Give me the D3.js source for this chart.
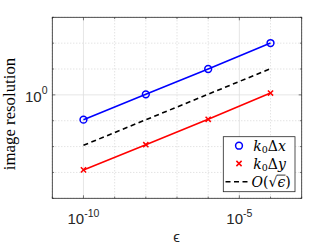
<!DOCTYPE html>
<html>
<head>
<meta charset="utf-8">
<script src="https://cdn.jsdelivr.net/npm/d3@7"></script>
<style>
	body { margin:0; background:#fff; }
	svg { display:block; }
	.tick-lbl { font-family:"Liberation Sans", Arial, sans-serif; font-size:15px; fill:#262626; }
	.serif { font-family:"Liberation Serif", "DejaVu Serif", serif; fill:#000; }
	.math { font-family:"DejaVu Serif", serif; fill:#000; }
</style>
</head>
<body>
<svg id="chart" width="332" height="249"></svg>
<script>
// values
var eps = [1e-10, 1e-8, 1e-6, 1e-4];
var kdx = [0.11, 1.05, 10.0, 101];
var kdy = [0.00125, 0.0118, 0.114, 1.18];
var refEps = [1e-10, 1e-4];
var refVal = [0.0112, 10.3];
var xMajor = [1e-10, 1e-5], xMajorExp = ['-10', '-5'];
var xMinor = [1e-11, 1e-9, 1e-8, 1e-7, 1e-6, 1e-4, 1e-3];
var yMajor = [1], yMajorExp = ['0'];
var yMinor = [1e-4, 1e-3, 1e-2, 1e-1, 1e1, 1e2, 1e3];

var svg = d3.select('#chart');
var box = { l:52.3, r:301.7, t:17.3, b:198.3 };
var x = d3.scaleLog().domain([1e-11, 1e-3]).range([box.l, box.r]);
var y = d3.scaleLog().domain([1e-4, 1e3]).range([box.b, box.t]);
var axisCol = '#262626';

// grid
var grid = svg.append('g');
grid.selectAll('.gx').data(xMinor).enter().append('line')
	.attr('x1', function(d) { return x(d); }).attr('x2', function(d) { return x(d); })
	.attr('y1', box.t).attr('y2', box.b)
	.attr('stroke', '#bdbdbd').attr('stroke-width', 0.6).attr('stroke-dasharray', '1,2');
grid.selectAll('.gy').data(yMinor).enter().append('line')
	.attr('y1', function(d) { return y(d); }).attr('y2', function(d) { return y(d); })
	.attr('x1', box.l).attr('x2', box.r)
	.attr('stroke', '#bdbdbd').attr('stroke-width', 0.6).attr('stroke-dasharray', '1,2');
grid.selectAll('.Gx').data(xMajor).enter().append('line')
	.attr('x1', function(d) { return x(d); }).attr('x2', function(d) { return x(d); })
	.attr('y1', box.t).attr('y2', box.b)
	.attr('stroke', '#e0e0e0').attr('stroke-width', 0.8);
grid.selectAll('.Gy').data(yMajor).enter().append('line')
	.attr('y1', function(d) { return y(d); }).attr('y2', function(d) { return y(d); })
	.attr('x1', box.l).attr('x2', box.r)
	.attr('stroke', '#e0e0e0').attr('stroke-width', 0.8);

// ticks on all four sides, pointing inward
var ticks = svg.append('g').attr('stroke', axisCol).attr('stroke-width', 0.6);
function xt(list, len) {
	list.forEach(function(d) {
		ticks.append('line').attr('x1', x(d)).attr('x2', x(d)).attr('y1', box.b).attr('y2', box.b - len);
		ticks.append('line').attr('x1', x(d)).attr('x2', x(d)).attr('y1', box.t).attr('y2', box.t + len);
	});
}
function yt(list, len) {
	list.forEach(function(d) {
		ticks.append('line').attr('y1', y(d)).attr('y2', y(d)).attr('x1', box.l).attr('x2', box.l + len);
		ticks.append('line').attr('y1', y(d)).attr('y2', y(d)).attr('x1', box.r).attr('x2', box.r - len);
	});
}
xt(xMajor, 3); xt(xMinor, 1.8); yt(yMajor, 3); yt(yMinor, 1.8);

svg.append('rect').attr('x', box.l).attr('y', box.t)
	.attr('width', box.r - box.l).attr('height', box.b - box.t)
	.attr('fill', 'none').attr('stroke', axisCol).attr('stroke-width', 0.8);

// tick labels
svg.selectAll('.xl').data(xMajor).enter().append('text')
	.attr('class', 'tick-lbl').attr('x', function(d) { return x(d); }).attr('y', 224)
	.attr('text-anchor', 'middle')
	.each(function(d, i) {
		var t = d3.select(this);
		t.append('tspan').text('10');
		t.append('tspan').attr('dy', -7.3).attr('font-size', 10.5).text(xMajorExp[i]);
	});
svg.selectAll('.yl').data(yMajor).enter().append('text')
	.attr('class', 'tick-lbl').attr('x', 47.5).attr('y', function(d) { return y(d) + 6.8; })
	.attr('text-anchor', 'end')
	.each(function(d, i) {
		var t = d3.select(this);
		t.append('tspan').text('10');
		t.append('tspan').attr('dy', -7.3).attr('font-size', 10.5).text(yMajorExp[i]);
	});

// axis titles
svg.append('text').attr('class', 'tick-lbl').attr('x', 176.5).attr('y', 241.5)
	.attr('text-anchor', 'middle').attr('font-size', 13).text('\u03f5');
svg.append('text').attr('class', 'serif').attr('font-size', 16.8)
	.attr('transform', 'translate(14.5,114) rotate(-90)').attr('text-anchor', 'middle')
	.text('image resolution');

// series
var line = d3.line().x(function(d) { return x(d[0]); }).y(function(d) { return y(d[1]); });
svg.append('path').datum(d3.zip(eps, kdx)).attr('d', line)
	.attr('fill', 'none').attr('stroke', '#0000ff').attr('stroke-width', 1.6);
svg.append('path').datum(d3.zip(eps, kdy)).attr('d', line)
	.attr('fill', 'none').attr('stroke', '#ff0000').attr('stroke-width', 1.6);
svg.append('path').datum(d3.zip(refEps, refVal)).attr('d', line)
	.attr('fill', 'none').attr('stroke', '#000').attr('stroke-width', 1.6).attr('stroke-dasharray', '5,3.5');

function circ(g, cx, cy) {
	g.append('circle').attr('cx', cx).attr('cy', cy).attr('r', 3.4)
		.attr('fill', 'none').attr('stroke', '#0000ff').attr('stroke-width', 1.5);
}
function cross(g, cx, cy) {
	var s = 2.6;
	g.append('path').attr('d', 'M' + (cx - s) + ',' + (cy - s) + 'L' + (cx + s) + ',' + (cy + s) +
		'M' + (cx - s) + ',' + (cy + s) + 'L' + (cx + s) + ',' + (cy - s))
		.attr('stroke', '#ff0000').attr('stroke-width', 1.5);
}
var marks = svg.append('g');
eps.forEach(function(e, i) {
	circ(marks, x(e), y(kdx[i]));
	cross(marks, x(e), y(kdy[i]));
});

// legend
var lg = svg.append('g');
lg.append('rect').attr('x', 223.3).attr('y', 136.7).attr('width', 71.7).attr('height', 55)
	.attr('fill', '#fff').attr('stroke', axisCol).attr('stroke-width', 0.8);
circ(lg, 239, 145.7);
cross(lg, 239, 163.5);
lg.append('line').attr('x1', 225.5).attr('x2', 249).attr('y1', 181.7).attr('y2', 181.7)
	.attr('stroke', '#000').attr('stroke-width', 1.6).attr('stroke-dasharray', '5,3.5');
function kd(yy, v) {
	var t = lg.append('text').attr('class', 'math').attr('x', 253.3).attr('y', yy).attr('font-size', 14);
	t.append('tspan').attr('font-style', 'italic').text('k');
	t.append('tspan').attr('font-size', 9.5).attr('dy', 2.5).text('0');
	t.append('tspan').attr('dy', -2.5).text('\u0394');
	t.append('tspan').attr('font-style', 'italic').text(v);
}
kd(150.5, 'x');
kd(168.5, 'y');
var o = lg.append('text').attr('class', 'math').attr('x', 251.5).attr('y', 186.5).attr('font-size', 14);
o.append('tspan').attr('font-style', 'italic').text('O');
o.append('tspan').text('(\u221a');
o.append('tspan').attr('font-style', 'italic').text('\u03f5');
o.append('tspan').text(')');
// radical bar over the epsilon
var sq = o.node().getExtentOfChar(2), ep = o.node().getExtentOfChar(3);
lg.append('line').attr('x1', sq.x + sq.width - 0.6).attr('x2', ep.x + ep.width + 0.3)
	.attr('y1', sq.y + 1.6).attr('y2', sq.y + 1.6)
	.attr('stroke', '#000').attr('stroke-width', 0.8);
</script>
</body>
</html>
